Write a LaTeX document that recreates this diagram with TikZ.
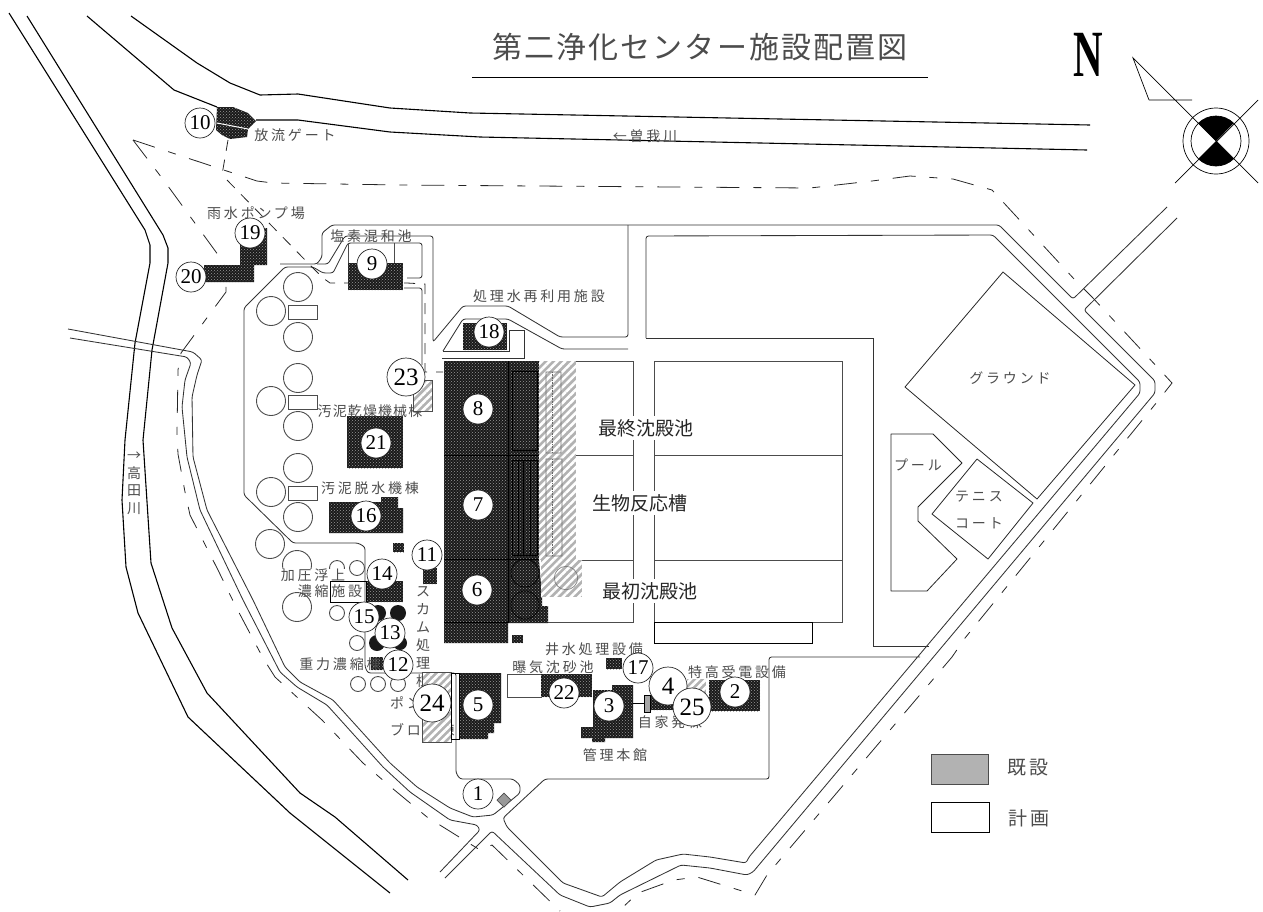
\documentclass[tikz,border=0pt]{standalone}
\usepackage{fontspec}
\usetikzlibrary{patterns, patterns.meta}
\newfontfamily\jp{Noto Sans CJK JP}
\newfontfamily\numfont{Liberation Serif}

\tikzset{
    riverline/.style={draw=black, line width=1.1pt, line join=round},
    roadline/.style={draw=black!80, line width=0.85pt, rounded corners=2.5pt},
    tankline/.style={draw=black!70, line width=0.9pt},
    courtline/.style={draw=black!85, line width=0.8pt, line join=round},
    boundline/.style={draw=black!85, line width=0.8pt, dash pattern=on 23pt off 14pt on 8pt off 14pt},
    pipeline/.style={draw=black!85, line width=0.8pt, dash pattern=on 11pt off 9pt},
    darkblock/.style={fill=black!90, postaction={pattern=crosshatch dots, pattern color=black!40}},
    hatchblock/.style={fill=black!30, postaction={pattern={Lines[angle=45, distance=5.5pt, line width=2.6pt]}, pattern color=white}},
    numcircle/.style={circle, draw=black!85, fill=white, line width=0.7pt, inner sep=0pt, minimum size=30pt, font=\numfont\fontsize{21}{21}\selectfont},
    bignumcircle/.style={numcircle, minimum size=38pt, font=\numfont\fontsize{25}{25}\selectfont},
    planlabel/.style={inner sep=0pt, text=black!70, align=center, font=\jp\fontsize{14}{18}\selectfont\addfontfeature{LetterSpace=20}},
    tanklabel/.style={inner sep=3pt, fill=white, text=black!85, font=\jp\fontsize{19}{19}\selectfont},
}

\begin{document}
\begin{tikzpicture}[x=1pt, y=-1pt]
    \useasboundingbox (0,0) rectangle (1263,911);

    \draw[riverline] (9,13) -- (145,230) -- (150,245) -- (150,263) -- (135,343) -- (125,440) -- (122,500) -- (126,567) -- (138,613) -- (188,717) -- (290,813) -- (390,893);
    \draw[riverline] (27,16) -- (163,235) -- (168,248) -- (168,263) -- (152,350) -- (143,440) -- (148,517) -- (151,563) -- (172,628) -- (207,693) -- (300,793) -- (335,817) -- (408,880);
    \draw[riverline] (131,16) -- (197,63) -- (230,83) -- (260,95) -- (298,94) -- (390,108) -- (470,113) -- (1090,125);
    \draw[riverline] (87,16) -- (174,90) -- (217,107);
    \draw[riverline] (256,120) -- (298,120) -- (390,132) -- (480,137) -- (1087,150);

    \draw[roadline] (70,338) -- (187,357) -- (191,363) -- (185,380) -- (182,407) -- (187,457) -- (200,510) -- (243,600) -- (280,672) -- (297,687) -- (327,705) -- (383,767) -- (410,792) -- (450,820) -- (477,825) -- (480,830) -- (440,872);
    \draw[roadline] (68,329) -- (193,352) -- (202,360) -- (197,375) -- (192,397) -- (193,457) -- (207,510) -- (253,600) -- (285,667) -- (300,682) -- (333,700) -- (390,763) -- (417,787) -- (450,808) -- (473,817) -- (493,815) -- (503,807) -- (520,793) -- (520,785) -- (513,779) -- (460,779) -- (456,773) -- (456,673) -- (368,673) -- (365,667) -- (365,547) -- (358,543) -- (293,543) -- (244,495) -- (244,308) -- (285,267) -- (313,267) -- (323,273) -- (333,273) -- (348,243) -- (422,243) -- (422,278) -- (407,278);
    \draw[roadline] (280,264) -- (317,264) -- (322,257) -- (322,233) -- (332,225) -- (999,225) -- (1073,299) -- (1167,207);
    \draw[roadline] (317,264) -- (328,264) -- (345,236) -- (433,236) -- (433,342) -- (463,306) -- (508,306) -- (560,337) -- (628,337) -- (628,225);
    \draw[roadline] (443,351) -- (463,319) -- (508,319) -- (562,349) -- (628,349);
    \draw[roadline, rounded corners=0pt] (443,351) -- (509,351) -- (509,330) -- (524,330) -- (524,358) -- (442,358);
    \draw[roadline] (404,288) -- (422,288) -- (422,365);
    \draw[roadline] (646,338) -- (646,236) -- (993,235) -- (1140,382) -- (1140,393) -- (749,857) -- (746,863) -- (710,857) -- (683,854) -- (656,860) -- (620,882) -- (602,897) -- (563,883) -- (507,827) -- (503,818) -- (545,779) -- (769,779) -- (769,657) -- (920,657);
    \draw[roadline, rounded corners=0pt] (646,338) -- (873,338) -- (873,646) -- (929,646);
    \draw[roadline] (1177,218) -- (1084,310) -- (1155,381) -- (1155,393) -- (753,872) -- (747,875) -- (710,868) -- (681,865) -- (620,895) -- (610,903) -- (590,907) -- (560,895) -- (492,831) -- (445,878);

    \draw[boundline] (133,140) -- (257,181) -- (273,183) -- (400,185) -- (810,188) -- (872,181) -- (910,176) -- (953,179) -- (992,190) -- (1003,202) -- (1075,280) -- (1092,297) -- (1160,370) -- (1172,383) -- (1157,402) -- (965,638) -- (952,657) -- (767,875) -- (755,895) -- (697,877) -- (674,880) -- (638,893) -- (622,908);
    \draw[boundline] (133,140) -- (165,182) -- (224,263) -- (226,284) -- (226,292) -- (181,353) -- (178,370) -- (177,433) -- (178,454) -- (185,492) -- (190,515) -- (218,570) -- (235,605) -- (263,658) -- (275,677) -- (322,720) -- (363,763) -- (392,788) -- (427,817) -- (480,850) -- (492,845) -- (560,911);
    \draw[pipeline] (228,140) -- (222,175);
    \draw[pipeline] (227,180) -- (308,263) -- (323,278) -- (330,283) -- (407,283) -- (425,284) -- (425,372) -- (443,372);

    % courts
    \draw[courtline] (1003,272) -- (1135,385) -- (1037,499) -- (905,387) -- cycle;
    \draw[courtline] (977,459) -- (1033,503) -- (988,559) -- (932,514) -- cycle;
    \draw[courtline] (891,591) -- (891,434) -- (933,434) -- (962,463) -- (918,507) -- (918,521) -- (957,559) -- (927,591) -- cycle;

    % tanks
    \draw[tankline] (444,361) -- (633,361) -- (633,622) -- (547,622);
    \draw[tankline] (576,455) -- (633,455) (576,560) -- (633,560);
    \draw[tankline] (654,361) rectangle (842,622);
    \draw[tankline] (654,455) -- (842,455) (654,560) -- (842,560);
    \draw[draw=black, line width=0.9pt] (654,622) rectangle (812,643);

    \fill[darkblock] (444,361) -- (539,361) -- (539,560) -- (542,597) -- (542,606) -- (548,606) -- (548,623) -- (508,623) -- (508,643) -- (444,643) -- cycle;
    \draw[black, line width=0.7pt] (508,361) -- (508,623) (444,455) -- (539,455) (444,559) -- (539,559) (444,622) -- (508,622);
    \draw[black, line width=0.7pt] (512,371) rectangle (537,450) (512,460) rectangle (537,555) (518,460) -- (518,555) (523,460) -- (523,555) (530,460) -- (530,555);
    \draw[black, line width=0.6pt] (525,573) circle (14) (525,605) circle (14);

    % round tanks
    \draw[tankline, fill=white] (298,287) circle (14.5) (271,311) circle (14.5) (298,337) circle (14.5) (298,378) circle (14.5) (271,401) circle (14.5) (298,426) circle (14.5) (298,468) circle (14.5) (271,492) circle (14.5) (298,517) circle (14.5) (270,544) circle (14.5) (297,565) circle (14.5) (297,607) circle (14.5);
    \draw[tankline, fill=white] (288,305) rectangle (317,319) (288,395) rectangle (317,409) (288,486) rectangle (317,500);
    \draw[tankline, fill=white] (337,568) circle (7.5) (357,568) circle (7.5) (337,613) circle (7.5) (357,643) circle (7.5) (358,684) circle (7.5) (378,684) circle (7.5) (398,684) circle (7.5);
    \fill[black!90] (398,613) circle (8) (378,613) circle (8) (377,643) circle (8) (400,643) circle (7);

    % buildings
    \fill[darkblock] (217,107) -- (233,107) -- (248,113) -- (256,121) -- (248,129) -- (247,137) -- (230,139) -- (222,135) -- (216,130) -- cycle;
    \draw[white, line width=1pt] (217,123) -- (248,129);
    \fill[darkblock] (240,228) -- (267,228) -- (267,265) -- (254,265) -- (254,282) -- (204,282) -- (204,265) -- (240,265) -- cycle;
    \fill[darkblock] (348,263) rectangle (403,290);
    \draw[tankline] (348,263) -- (348,243) (394,243) -- (394,263);
    \fill[darkblock] (463,323) rectangle (507,350);
    \fill[darkblock] (347,416) rectangle (403,468);
    \fill[darkblock] (329,502) -- (381,502) -- (381,497) -- (398,497) -- (398,508) -- (403,508) -- (403,533) -- (329,533) -- cycle;
    \fill[darkblock] (393,543) rectangle (404,552);
    \fill[darkblock] (423,568) rectangle (437,584);
    \fill[darkblock] (367,581) rectangle (403,602);
    \draw[draw=black, line width=0.8pt] (330,581) rectangle (366,602);
    \fill[darkblock] (371,657) rectangle (383,670);
    \fill[darkblock] (512,635) rectangle (523,643);
    \fill[darkblock] (459,673) -- (501,673) -- (501,723) -- (494,723) -- (494,733) -- (488,733) -- (488,739) -- (459,739) -- cycle;
    \draw[tankline] (507,674) rectangle (541,697);
    \fill[darkblock] (541,674) rectangle (592,697);
    \fill[darkblock] (606,658) rectangle (622,669);
    \fill[darkblock] (593,690) -- (612,690) -- (612,685) -- (633,685) -- (633,738) -- (605,738) -- (605,742) -- (592,742) -- (592,738) -- (581,738) -- (581,727) -- (593,727) -- cycle;
    \draw[black, line width=0.8pt] (633,703) -- (644,703);
    \fill[darkblock] (650,695) rectangle (680,710);
    \fill[darkblock] (709,680) rectangle (760,711);

    % labels
    \node[planlabel, font=\jp\fontsize{30}{30}\selectfont\addfontfeature{LetterSpace=7}] (title) at (700,47) {第二浄化センター施設配置図};
    \draw[black, line width=0.8pt] (472,77) -- (928,77);
    \node[inner sep=0pt, xscale=0.62, font=\numfont\bfseries\fontsize{66}{66}\selectfont] (north) at (1088,55) {N};
    \node[planlabel] (lblgate) at (295,135) {放流ゲート};
    \node[planlabel] (lblsoga) at (645,136) {←曽我川};
    \node[planlabel] (lblrain) at (256,213) {雨水ポンプ場};
    \node[planlabel] (lblchlor) at (371,236) {塩素混和池};
    \node[planlabel] (lblreuse) at (539,296) {処理水再利用施設};
    \node[planlabel, font=\jp\fontsize{14}{18}\selectfont\addfontfeature{LetterSpace=8}] (lbldry) at (370,411) {汚泥乾燥機械棟};
    \node[planlabel] (lbldew) at (370,488) {汚泥脱水機棟};
    \node[planlabel, fill=white] (lblpress) at (313,575) {加圧浮上};
    \node[planlabel] (lblthick) at (330,591) {濃縮施設};
    \node[planlabel, anchor=north] (lblscum) at (423,586) {ス\\カ\\ム\\処\\理\\棟};
    \node[planlabel] (lblgrav) at (340,664) {重力濃縮棟};
    \node[planlabel, anchor=west] (lblpump) at (390,703) {ポンプ};
    \node[planlabel, anchor=west] (lblblow) at (390,730) {ブロワ棟};
    \node[planlabel] (lblgrit) at (553,667) {曝気沈砂池};
    \node[planlabel] (lblwell) at (594,649) {井水処理設備};
    \node[planlabel] (lblhv) at (737,672) {特高受電設備};
    \node[planlabel] (lblgen) at (670,722) {自家発棟};
    \node[planlabel] (lblmain) at (615,755) {管理本館};
    \node[planlabel] (lblground) at (1010,378) {グラウンド};
    \node[planlabel] (lbltennis) at (979,497) {テニス};
    \node[planlabel] (lblcourt) at (979,523) {コート};
    \node[planlabel] (lblpool) at (918,465) {プール};
    \node[planlabel, font=\jp\fontsize{14}{17.5}\selectfont, anchor=north] (lbltakada) at (134,452) {→\\高\\田\\川};
    \node[tanklabel] (lblfinal) at (646,428) {最終沈殿池};
    \node[tanklabel] (lblbio) at (640,503) {生物反応槽};
    \node[tanklabel] (lblfirst) at (650,591) {最初沈殿池};

    % hatched parts
    \fill[hatchblock] (539,361) rectangle (576,560);
    \fill[hatchblock] (541,560) rectangle (582,597);
    \draw[black!55, line width=0.6pt] (546,372) rectangle (561,453) (546,459) rectangle (562,556) (566,578) circle (11.7);
    \draw[black!60, line width=0.6pt, densely dotted] (552,372) -- (552,453) (552,459) -- (552,556);
    \fill[hatchblock] (413,380) rectangle (432,411);
    \draw[black!70, line width=0.6pt] (413,380) rectangle (432,411);
    \fill[hatchblock] (422,672) rectangle (451,742);
    \draw[black!70, line width=0.6pt] (422,672) rectangle (451,742);
    \draw[black, line width=0.7pt] (451,673) rectangle (459,739);
    \draw[draw=black, fill=black!35, line width=0.7pt] (644,695) rectangle (650,712);
    \fill[hatchblock] (687,679) rectangle (706,695);
    \draw[draw=black!70, fill=black!40, line width=0.7pt] (504,793) -- (511,800) -- (504,807) -- (497,800) -- cycle;

    % numbers
    \node[numcircle] (num1) at (478,794) {1};
    \node[numcircle] (num2) at (735,692) {2};
    \node[numcircle] (num3) at (609,706) {3};
    \node[bignumcircle] (num4) at (668,686) {4};
    \node[numcircle] (num5) at (478,705) {5};
    \node[numcircle] (num6) at (477,590) {6};
    \node[numcircle] (num7) at (478,505) {7};
    \node[numcircle] (num8) at (478,409) {8};
    \node[numcircle] (num9) at (372,264) {9};
    \node[numcircle] (num10) at (200,123) {10};
    \node[numcircle] (num11) at (427,555) {11};
    \node[numcircle] (num14) at (382,574) {14};
    \node[numcircle] (num15) at (364,617) {15};
    \node[numcircle] (num13) at (390,633) {13};
    \node[numcircle] (num12) at (398,665) {12};
    \node[numcircle] (num16) at (366,516) {16};
    \node[numcircle] (num17) at (638,668) {17};
    \node[numcircle] (num18) at (489,332) {18};
    \node[numcircle] (num19) at (250,233) {19};
    \node[numcircle] (num20) at (191,277) {20};
    \node[numcircle] (num21) at (376,443) {21};
    \node[numcircle] (num22) at (564,693) {22};
    \node[bignumcircle] (num23) at (406,377) {23};
    \node[bignumcircle] (num24) at (432,703) {24};
    \node[bignumcircle] (num25) at (692,707) {25};

    % compass
    \draw[black, line width=0.7pt] (1216,141) circle (33) (1216,141) circle (25);
    \fill[black] (1216,141) -- ++(-17.7,-17.7) arc[start angle=225, end angle=315, radius=25] -- cycle;
    \fill[black] (1216,141) -- ++(-17.7,17.7) arc[start angle=135, end angle=45, radius=25] -- cycle;
    \draw[black, line width=0.7pt] (1149,100) -- (1133,58) -- (1258,183) (1149,100) -- (1192,100) (1175,183) -- (1258,100);

    % legend
    \draw[draw=black!70, fill=black!30, line width=0.8pt] (931,754) rectangle (988,784);
    \node[planlabel, font=\jp\fontsize{19}{19}\selectfont\addfontfeature{LetterSpace=15}] (lblold) at (1028,768) {既設};
    \draw[draw=black, line width=0.8pt] (931,802) rectangle (989,832);
    \node[planlabel, font=\jp\fontsize{19}{19}\selectfont\addfontfeature{LetterSpace=15}] (lblnew) at (1029,818) {計画};
\end{tikzpicture}
\end{document}
